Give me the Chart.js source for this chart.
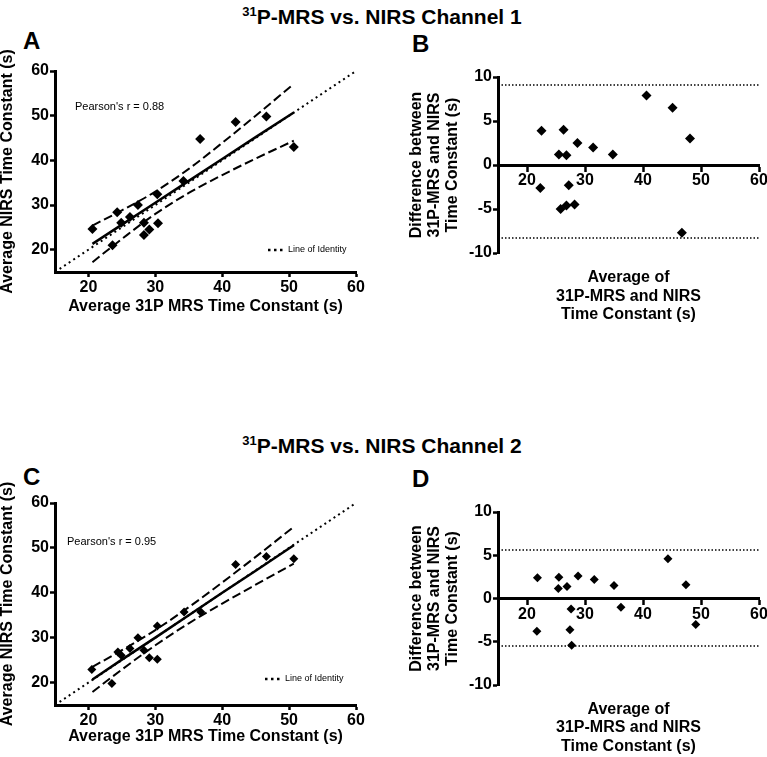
<!DOCTYPE html>
<html>
<head>
<meta charset="utf-8">
<script src="https://cdn.jsdelivr.net/npm/chart.js@4.4.1/dist/chart.umd.min.js"></script>
<style>
  body { margin: 0; width: 767px; height: 757px; overflow: hidden; position: relative; background: #fff;
         font-family: "Liberation Sans", Arial, Helvetica, sans-serif; color: #000; }
  canvas { position: absolute; }
  .title { position: absolute; left: 0; width: 764px; text-align: center; font-size: 21px; font-weight: bold; line-height: 1; }
  .title sup { font-size: 13px; vertical-align: 8px; line-height: 1; }
  .letter { position: absolute; font-size: 24px; font-weight: bold; line-height: 1; }
</style>
</head>
<body>
<div class="title" style="top:5px"><sup>31</sup>P-MRS vs. NIRS Channel 1</div>
<div class="letter" style="left:23px;top:29px">A</div>
<div class="letter" style="left:412px;top:32px">B</div>
<canvas id="chartA" width="380" height="305" style="left:0;top:20px"></canvas>
<canvas id="chartB" width="400" height="353" style="left:380px;top:60px"></canvas>

<div class="title" style="top:434px"><sup>31</sup>P-MRS vs. NIRS Channel 2</div>
<div class="letter" style="left:23px;top:465px">C</div>
<div class="letter" style="left:412px;top:467px">D</div>
<canvas id="chartC" width="380" height="308" style="left:0;top:450px"></canvas>
<canvas id="chartD" width="400" height="355" style="left:380px;top:490px"></canvas>

<script>
const FONT = '"Liberation Sans", Arial, Helvetica, sans-serif';

// --- Channel 1: 31P-MRS vs NIRS time constants (s)
const mrsCh1  = [20.6, 23.6, 24.3, 24.9, 26.2, 27.4, 28.3, 28.3, 29.1, 30.3, 30.4, 34.2, 36.7, 42.0, 46.6, 50.7];
const nirsCh1 = [24.6, 21.0, 28.4, 26.0, 27.3, 30.0, 26.0, 23.3, 24.5, 32.4, 25.9, 35.4, 44.8, 48.6, 49.8, 43.0];
// Bland-Altman channel 1
const baAvgCh1  = [22.5, 22.3, 25.5, 26.3, 26.8, 25.8, 26.8, 27.2, 28.2, 28.7, 31.4, 34.8, 40.6, 45.1, 48.1, 46.7];
const baDiffCh1 = [3.9, -2.6, 1.2, 4.0, 1.1, -5.0, -4.6, -2.3, -4.5, 2.5, 2.0, 1.2, 7.9, 6.5, 3.0, -7.7];
const limitsCh1 = [9.1, -8.3];

// --- Channel 2
const mrsCh2  = [20.5, 23.5, 24.4, 24.9, 26.2, 27.4, 28.3, 29.1, 30.3, 30.3, 34.3, 36.8, 42.0, 46.6, 50.7];
const nirsCh2 = [22.9, 19.8, 26.8, 26.1, 27.6, 30.0, 27.2, 25.5, 25.2, 32.6, 35.7, 35.7, 46.3, 48.1, 47.6];
const baAvgCh2  = [21.8, 21.7, 25.5, 25.4, 26.9, 27.6, 27.4, 27.7, 28.8, 31.6, 35.0, 36.2, 44.3, 47.4, 49.1];
const baDiffCh2 = [2.4, -3.8, 2.45, 1.15, 1.4, -1.2, -3.6, -5.4, 2.6, 2.2, 1.5, -1.0, 4.6, 1.6, -3.0];
const limitsCh2 = [5.6, -5.5];

// regression line and 95% confidence bands, read at these x values
const fitX = [20.6, 25, 30, 35, 40, 45, 50.7];
const fitCh1   = [21.3, 25.6, 30.5, 35.4, 40.3, 45.2, 50.7];
const upperCh1 = [25.4, 28.8, 33.0, 38.1, 43.9, 50.0, 57.1];
const lowerCh1 = [17.2, 22.4, 28.0, 32.7, 36.7, 40.4, 44.4];
const fitCh2   = [20.7, 25.1, 30.0, 35.0, 40.0, 44.9, 50.6];
const upperCh2 = [23.5, 27.2, 31.7, 36.8, 42.3, 48.0, 54.7];
const lowerCh2 = [17.9, 22.9, 28.3, 33.2, 37.6, 41.8, 46.5];

const identity = [15, 60];
const corrTicks = [20, 30, 40, 50, 60];
const diffTicks = [-10, -5, 0, 5, 10];

const pts = (xs, ys) => xs.map((x, i) => ({ x: x, y: ys[i] }));

const scatterSet = (data, r) => ({
  data: data, showLine: false, pointStyle: 'rectRot', pointRadius: r, pointHoverRadius: r,
  backgroundColor: '#000', borderColor: '#000', borderWidth: 0
});
const lineSet = (data, dash, width, curve) => ({
  data: data, showLine: true, pointRadius: 0, borderColor: '#000', borderWidth: width,
  borderDash: dash, fill: false, cubicInterpolationMode: curve ? 'monotone' : 'default'
});

const boldFont = (lh) => ({ family: FONT, size: 16, weight: 'bold', lineHeight: lh });

const axis = (min, max, ticks, size, title) => Object.assign({
  type: 'linear', min: min, max: max,
  afterBuildTicks: s => { s.ticks = ticks.map(v => ({ value: v })); },
  border: { display: true, color: '#000', width: 3 },
  grid: { display: true, drawOnChartArea: false, drawTicks: true, tickLength: 5, tickWidth: 2.5, tickColor: '#000' },
  ticks: { color: '#000', padding: 1, font: boldFont(1.2), callback: v => String(v) },
  title: title
}, size);

// text drawn inside the plot area
const notes = {
  id: 'notes',
  afterDatasetsDraw(chart, args, opts) {
    const ctx = chart.ctx, a = chart.chartArea;
    ctx.save();
    ctx.fillStyle = '#000';
    ctx.textBaseline = 'middle';
    if (opts.pearson) {
      ctx.font = '11px ' + FONT;
      ctx.fillText(opts.pearson, a.left + opts.px, a.top + opts.py);
    }
    if (opts.legend) {
      const y = a.bottom - opts.ly;
      const x = a.left + opts.lx;
      ctx.strokeStyle = '#000';
      ctx.lineWidth = 2.5;
      ctx.setLineDash([2.5, 3.5]);
      ctx.beginPath();
      ctx.moveTo(x, y);
      ctx.lineTo(x + 15, y);
      ctx.stroke();
      ctx.setLineDash([]);
      ctx.font = '9px ' + FONT;
      ctx.fillText(opts.legend, x + 20, y);
    }
    ctx.restore();
  }
};

const baseOptions = (scales, padding, noteOpts) => ({
  responsive: false, animation: false, devicePixelRatio: 1,
  layout: { padding: padding },
  plugins: { legend: { display: false }, tooltip: { enabled: false }, notes: noteOpts },
  scales: scales
});

function correlationChart(id, xs, ys, fit, upper, lower, pearson, r, padTop, titlePad, noteOpts) {
  new Chart(document.getElementById(id), {
    type: 'scatter',
    data: {
      datasets: [
        scatterSet(pts(xs, ys), r),
        lineSet(pts(fitX, fit), [], 2.5, false),
        lineSet(pts(fitX, upper), [9, 4], 2, true),
        lineSet(pts(fitX, lower), [9, 4], 2, true),
        lineSet(pts(identity, identity), [2, 3.5], 2, false)
      ]
    },
    options: baseOptions({
      x: axis(15, 60, corrTicks, { position: 'bottom', afterFit: s => { s.height = 53; } },
        { display: true, text: 'Average 31P MRS Time Constant (s)', color: '#000', font: boldFont(1.2), padding: { top: 0, bottom: titlePad } }),
      y: axis(15, 60, corrTicks, { position: 'left', afterFit: s => { s.width = 55; } },
        { display: true, text: 'Average NIRS Time Constant (s)', color: '#000', font: boldFont(1), padding: { top: 0, bottom: 0 } })
    }, { top: padTop, right: 24, bottom: 0, left: 0 }, Object.assign({ pearson: pearson, legend: 'Line of Identity' }, noteOpts)),
    plugins: [notes]
  });
}

// the x axis sits at y = 0, so the space below the plot is reserved by padding
function agreementChart(id, avg, diff, limits, r, padTop, titlePad) {
  new Chart(document.getElementById(id), {
    type: 'scatter',
    data: {
      datasets: [
        scatterSet(pts(avg, diff), r),
        lineSet(pts([15, 60], [limits[0], limits[0]]), [1.5, 2], 1.5, false),
        lineSet(pts([15, 60], [limits[1], limits[1]]), [1.5, 2], 1.5, false)
      ]
    },
    options: baseOptions({
      x: axis(15, 60, corrTicks, { position: { y: 0 }, afterFit: s => { s.height = 160; } },
        { display: true, text: ['Average of', '31P-MRS and NIRS', 'Time Constant (s)'], color: '#000',
          font: boldFont(1.15), padding: { top: 0, bottom: titlePad } }),
      y: axis(-10, 10, diffTicks, { position: 'left', afterFit: s => { s.width = 118; } },
        { display: true, text: ['Difference between', '31P-MRS and NIRS', 'Time Constant (s)'], color: '#000',
          font: boldFont(1.15), padding: { top: 27, bottom: 0 } })
    }, { top: padTop, right: 21, bottom: 160, left: 0 }, {}),
    plugins: [notes]
  });
}

correlationChart('chartA', mrsCh1, nirsCh1, fitCh1, upperCh1, lowerCh1, "Pearson's r = 0.88", 5, 51, 8.4,
  { px: 20, py: 36, lx: 213, ly: 22 });
agreementChart('chartB', baAvgCh1, baDiffCh1, limitsCh1, 5, 17, 1);

correlationChart('chartC', mrsCh2, nirsCh2, fitCh2, upperCh2, lowerCh2, "Pearson's r = 0.95", 4.5, 53, 11.4,
  { px: 12, py: 39, lx: 210, ly: 26 });
agreementChart('chartD', baAvgCh2, baDiffCh2, limitsCh2, 4.5, 22, 3);
</script>
</body>
</html>
